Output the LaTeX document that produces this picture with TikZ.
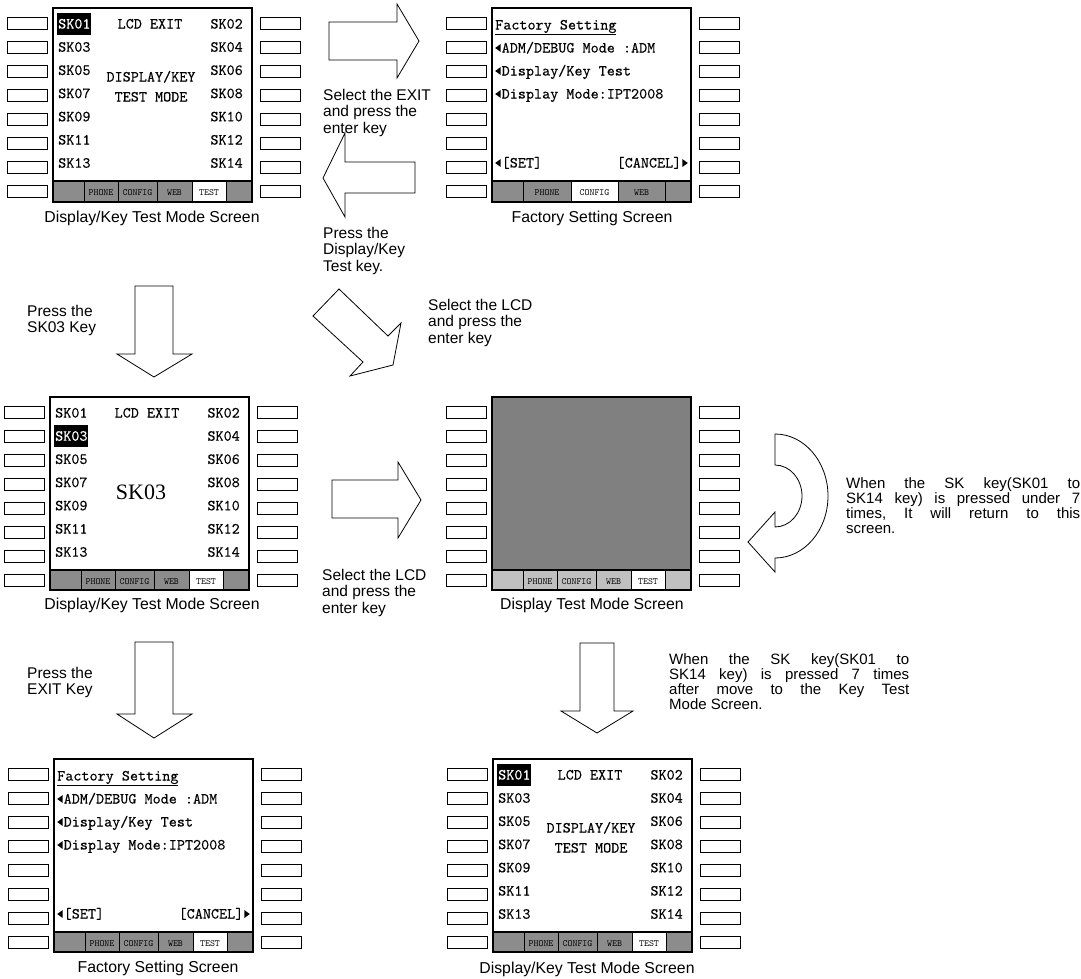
\documentclass[tikz,border=0pt]{standalone}
\usepackage{fontspec}
\setmainfont{Liberation Sans}
\newfontfamily\scrfont{lmmono10-regular.otf}[FakeBold=0.25]
\newfontfamily\tabfont{lmmono10-regular.otf}
\newfontfamily\bigserif{Liberation Serif}
\definecolor{tabgray}{RGB}{140,140,140}
\definecolor{lcdgray}{RGB}{128,128,128}
\definecolor{ltgray}{RGB}{192,192,192}

\tikzset{
  btn/.style={draw=black,line width=0.8pt,fill=white},
  scrframe/.style={draw=black,line width=1.3pt},
  tabcellstyle/.style={draw=black,line width=0.8pt},
  barrow/.style={draw=black,line width=0.8pt,fill=white,line join=miter},
  scr/.style={font=\scrfont\fontsize{15.4}{15.4}\selectfont,inner sep=0pt},
  big/.style={font=\bigserif\fontsize{22}{22}\selectfont,inner sep=0pt},
  tablbl/.style={font=\tabfont\fontsize{9.5}{9.5}\selectfont,inner sep=0pt},
  lbl/.style={font=\fontsize{15.5}{16.5}\selectfont,inner sep=0pt,align=left,anchor=north west},
  note/.style={font=\fontsize{15}{15}\selectfont,inner sep=0pt,align=left,anchor=north west},
  captxt/.style={font=\fontsize{15.8}{16.5}\selectfont,inner sep=0pt,anchor=base},
}

\newcommand\ltri{\tikz[baseline=0pt]\fill (0pt,4.5pt)--(5.5pt,0.5pt)--(5.5pt,8.5pt)--cycle;\kern1pt}
\newcommand\rtri{\kern1pt\tikz[baseline=0pt]\fill (5.5pt,4.5pt)--(0pt,0.5pt)--(0pt,8.5pt)--cycle;}
\newcommand\jl[2]{\hbox to #1{\frenchspacing\spaceskip=0.25em plus 1fil\relax #2}}

\newcommand\sidebtns{%
  \foreach \i in {0,...,7}{%
    \draw[btn] (-46,{9+24*\i}) rectangle (-6,{21+24*\i});
    \draw[btn] (207,{9+24*\i}) rectangle (247,{21+24*\i});
  }}
\newcommand\tabcell[4]{%
  \draw[tabcellstyle,fill=#3] (#1,173) rectangle (#2,193);
  \node[tablbl] at ({(#1+#2)/2},185) {#4};}
\newcommand\testtabs[1]{%
  \fill[#1] (0,172) rectangle (199,194);
  \tabcell{0}{31}{#1}{}
  \tabcell{31}{65}{#1}{PHONE}
  \tabcell{65}{104}{#1}{CONFIG}
  \tabcell{104}{139}{#1}{WEB}
  \tabcell{139}{173}{white}{TEST}
  \tabcell{173}{199}{#1}{}
  \draw[line width=1pt] (0,172) -- (199,172);}
\newcommand\cfgtabs{%
  \fill[tabgray] (0,172) rectangle (199,194);
  \tabcell{0}{31}{tabgray}{}
  \tabcell{31}{79}{tabgray}{PHONE}
  \tabcell{79}{126}{white}{CONFIG}
  \tabcell{126}{173}{tabgray}{WEB}
  \tabcell{173}{199}{tabgray}{}
  \draw[line width=1pt] (0,172) -- (199,172);}
\newcommand\sklabels{%
  \foreach \n [count=\k from 0] in {01,03,05,07,09,11,13}
    \node[scr,anchor=base west] at (5,{20.5+23.2*\k}) {SK\n};
  \foreach \n [count=\k from 0] in {02,04,06,08,10,12,14}
    \node[scr,anchor=base east] at (190,{20.5+23.2*\k}) {SK\n};
  \node[scr,anchor=base] at (97,20.5) {LCD EXIT};}
\newcommand\hilite[2]{%
  \fill (4,{5+23.2*#1}) rectangle (38,{27+23.2*#1});
  \node[scr,anchor=base west,text=white] at (5,{20.5+23.2*#1}) {#2};}
\newcommand\factorytext{%
  \node[scr,anchor=base west] at (3,21.5) {\underline{Factory Setting}};
  \node[scr,anchor=base west] at (3,44.5) {\ltri ADM/DEBUG Mode :ADM};
  \node[scr,anchor=base west] at (3,67.5) {\ltri Display/Key Test};
  \node[scr,anchor=base west] at (3,90.5) {\ltri Display Mode:IPT2008};
  \node[scr,anchor=base west] at (3,159.5) {\ltri[SET]};
  \node[scr,anchor=base east] at (196,159.5) {[CANCEL]\rtri};}

\begin{document}
\begin{tikzpicture}[x=1pt,y=-1pt]
\useasboundingbox (0,0) rectangle (1081,978);
\fill[white] (0,0) rectangle (1081,978);

% ---- screen 1: top-left key test
\begin{scope}[shift={(53,8)}]
  \sidebtns
  \testtabs{tabgray}
  \sklabels
  \hilite{0}{SK01}
  \node[scr,anchor=base] at (98,73.5) {DISPLAY/KEY};
  \node[scr,anchor=base] at (98,93.5) {TEST MODE};
  \draw[scrframe] (0,0) rectangle (199,194);
\end{scope}
\node[captxt] (cap1) at (152,222.5) {Display/Key Test Mode Screen};

% ---- screen 2: top-right factory
\begin{scope}[shift={(492,8)}]
  \sidebtns
  \cfgtabs
  \factorytext
  \draw[scrframe] (0,0) rectangle (199,194);
\end{scope}
\node[captxt] (cap2) at (592,222.5) {Factory Setting Screen};

% ---- screen 3: middle-left
\begin{scope}[shift={(50,397)}]
  \sidebtns
  \testtabs{tabgray}
  \sklabels
  \hilite{1}{SK03}
  \node[big] at (91,95) {SK03};
  \draw[scrframe] (0,0) rectangle (199,193);
\end{scope}
\node[captxt] (cap3) at (152,609.5) {Display/Key Test Mode Screen};

% ---- screen 4: middle-right display test
\begin{scope}[shift={(492,397)}]
  \sidebtns
  \fill[lcdgray] (0,0) rectangle (199,172);
  \testtabs{ltgray}
  \draw[scrframe] (0,0) rectangle (199,193);
\end{scope}
\node[captxt] (cap4) at (592,609.5) {Display Test Mode Screen};

% ---- screen 5: bottom-left factory
\begin{scope}[shift={(54,759)}]
  \sidebtns
  \testtabs{tabgray}
  \factorytext
  \draw[scrframe] (0,0) rectangle (199,193);
\end{scope}
\node[captxt] (cap5) at (158,972.5) {Factory Setting Screen};

% ---- screen 6: bottom-right key test
\begin{scope}[shift={(493,759)}]
  \sidebtns
  \testtabs{tabgray}
  \sklabels
  \hilite{0}{SK01}
  \node[scr,anchor=base] at (98,73.5) {DISPLAY/KEY};
  \node[scr,anchor=base] at (98,93.5) {TEST MODE};
  \draw[scrframe] (0,0) rectangle (199,193);
\end{scope}
\node[captxt] (cap6) at (587,973.5) {Display/Key Test Mode Screen};

% ---- block arrows
\draw[barrow] (329,22) -- (397,22) -- (397,4) -- (419,41) -- (397,78) -- (397,60) -- (329,60) -- cycle;
\draw[barrow] (415,162) -- (345,162) -- (345,133) -- (323,178) -- (345,217) -- (345,193) -- (415,193) -- cycle;
\draw[barrow] (339,289) -- (313,316) -- (363,362) -- (350,376) -- (393,365) -- (401,323) -- (388,336) -- cycle;
\draw[barrow] (135,286) -- (173,286) -- (173,354) -- (192,354) -- (154,377) -- (117,354) -- (135,354) -- cycle;
\draw[barrow] (332,480) -- (398,480) -- (398,462) -- (421,500) -- (398,538) -- (398,518) -- (332,518) -- cycle;
\draw[barrow] (135,642) -- (173,642) -- (173,714) -- (192,714) -- (154,738) -- (117,714) -- (135,714) -- cycle;
\draw[barrow] (580,643) -- (614,643) -- (614,711) -- (633,711) -- (597,733) -- (561,711) -- (580,711) -- cycle;
% curved arrow (U-turn)
\draw[barrow] (775,434) .. controls (804.3,434) and (828,461.8) .. (828,496)
  .. controls (828,530.2) and (804.3,558) .. (775,558) -- (775,572) -- (748,542) -- (775,512) -- (775,527)
  .. controls (789.9,527) and (802,513.1) .. (802,496) .. controls (802,478.9) and (789.9,465) .. (775,465) -- cycle;

% ---- labels
\node[lbl] (t1) at (323,89) {Select the EXIT\\and press the\\enter key};
\node[lbl] (t2) at (323,227) {Press the\\Display/Key\\Test key.};
\node[lbl] (t3) at (428,299) {Select the LCD\\and press the\\enter key};
\node[lbl] (t4) at (27,305) {Press the\\SK03 Key};
\node[lbl] (t5) at (322,569) {Select the LCD\\and press the\\enter key};
\node[lbl] (t6) at (27,667) {Press the\\EXIT Key};
\node[note] (t7) at (846,477) {\jl{234pt}{When the SK key(SK01 to}\\\jl{234pt}{SK14 key) is pressed under 7}\\\jl{234pt}{times, It will return to this}\\screen.};
\node[note] (t8) at (669,653) {\jl{240pt}{When the SK key(SK01 to}\\\jl{240pt}{SK14 key) is pressed 7 times}\\\jl{240pt}{after move to the Key Test}\\Mode Screen.};
\end{tikzpicture}
\end{document}
